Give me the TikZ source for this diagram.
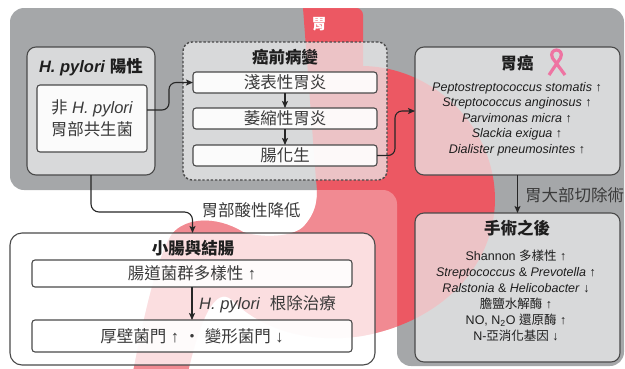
\documentclass[tikz,border=0pt]{standalone}
\usepackage{fontspec}
\setmainfont{Liberation Sans}
\newfontfamily\cjk{Noto Sans CJK TC}
\usetikzlibrary{arrows.meta,calc}

\definecolor{bandgray}{HTML}{A5A7A9}
\definecolor{stomachred}{HTML}{EC5863}
\definecolor{panelfill}{HTML}{EDEDED}
\definecolor{edgegray}{HTML}{4A4A4A}
\definecolor{inkgray}{HTML}{3A3A3A}
\definecolor{titleink}{HTML}{1E1E1E}
\definecolor{ribbonpink}{HTML}{EE74A2}

\newcommand\bigtxt{\fontsize{16.5}{19}\selectfont}
\newcommand\listtxt{\fontsize{12.5}{15.6}\selectfont}

% grey L-shaped band behind the stomach and the right column
\newcommand\bandoutline{(200,8) -- (624,8) -- (624,366) -- (397,366) -- (397,190) -- (10,190) -- (10,8) -- cycle}
% stomach silhouette: oesophagus, body, antrum, pylorus and duodenum
\newcommand\stomachoutline{(303,8) -- (356,8) .. controls (360,8) and (363,11) .. (363,15)
  -- (363,66) .. controls (433,67) and (495,126) .. (495,200)
  .. controls (494,268) and (440,322) .. (362,336)
  .. controls (310,344) and (262,330) .. (232,300)
  .. controls (215,285) and (200,320) .. (188,372)
  -- (133,372) .. controls (145,310) and (158,255) .. (172,234)
  .. controls (185,218) and (215,215) .. (243,232)
  .. controls (260,238) and (295,238) .. (305,225)
  .. controls (318,210) and (318,195) .. (316,180) -- cycle}

\begin{document}
\begin{tikzpicture}[x=1pt,y=-1pt,
  panel/.style={draw=edgegray, line width=1.1pt, rounded corners=9pt,
    fill=panelfill, fill opacity=0.72, inner sep=0pt, outer sep=0pt},
  dashpanel/.style={panel, dash pattern=on 2.4pt off 1.8pt, line width=1.4pt},
  lowpanel/.style={panel, fill=white, fill opacity=0.72, rounded corners=12pt},
  innerbox/.style={draw=edgegray, line width=1.1pt, rounded corners=3pt,
    fill=white, fill opacity=0.9, text opacity=1, inner sep=0pt, outer sep=0pt,
    text=inkgray, font=\bigtxt, align=center},
  heading/.style={font=\bigtxt\bfseries, text=titleink, inner sep=0pt},
  label/.style={font=\bigtxt, text=inkgray, inner sep=0pt},
  species/.style={font=\listtxt, text=titleink, inner sep=0pt, align=center},
  conn/.style={draw=black!85, line width=1.1pt,
    -{Stealth[length=7pt,width=6pt,inset=1.5pt]}}
]
\useasboundingbox (0,0) rectangle (625,368);

% background band and stomach
\fill[bandgray, rounded corners=14pt] \bandoutline;
\fill[stomachred] \stomachoutline;
\begin{scope}
  \clip \stomachoutline;
  \fill[white, fill opacity=0.3, even odd rule]
    (0,0) rectangle (625,375) [rounded corners=14pt] \bandoutline;
\end{scope}
\node[font=\fontsize{15}{15}\selectfont\cjk\bfseries, text=white, inner sep=0pt]
  (organ) at (319,24) {胃};

% panels
\node[panel, minimum width=128pt, minimum height=128pt] (hp) at (91,111) {};
\node[dashpanel, minimum width=204pt, minimum height=138pt] (pre) at (285,111) {};
\node[panel, minimum width=205pt, minimum height=128pt] (gc) at (517.5,111) {};
\node[panel, minimum width=205pt, minimum height=149pt] (ss) at (517.5,287.5) {};
\node[lowpanel, minimum width=365pt, minimum height=132pt] (sm) at (192.5,299) {};

% inner boxes
\node[innerbox, minimum width=110pt, minimum height=67pt,
  font=\fontsize{16.5}{22}\selectfont] (nhp) at (92,118.5)
  {{\cjk 非} \textit{H. pylori}\\{\cjk 胃部共生菌}};
\node[innerbox, minimum width=184pt, minimum height=21pt] (sg) at (285,82.5) {\cjk 淺表性胃炎};
\node[innerbox, minimum width=184pt, minimum height=21pt] (ws) at (285,118.5) {\cjk 萎縮性胃炎};
\node[innerbox, minimum width=184pt, minimum height=21pt] (ca) at (285,155.5) {\cjk 腸化生};
\node[innerbox, minimum width=320pt, minimum height=27pt] (gut1) at (192,273.5)
  {{\cjk 腸道菌群多樣性} ↑};
\node[innerbox, minimum width=320pt, minimum height=32pt] (gut2) at (192,336)
  {{\cjk 厚壁菌門} ↑ {\cjk ・} {\cjk 變形菌門} ↓};

% headings
\node[heading] (hpt) at (91,67) {\textit{H. pylori} {\cjk 陽性}};
\node[heading] (pret) at (285,57) {\cjk 癌前病變};
\node[heading] (gct) at (517,63) {\cjk 胃癌};
\node[heading] (sst) at (517,228) {\cjk 手術之後};
\node[heading] (smt) at (193,248) {\cjk 小腸與結腸};

% awareness ribbon
\draw[ribbonpink, line width=3.2pt] (549,75) -- (560.5,58)
  .. controls (563,53) and (559.5,50) .. (556.5,50)
  .. controls (553.5,50) and (550,53) .. (552.5,58) -- (565,75);

% species lists
\node[species] (gcl) at (517,119)
  {\textit{Peptostreptococcus stomatis} ↑\\
   \textit{Streptococcus anginosus} ↑\\
   \textit{Parvimonas micra} ↑\\
   \textit{Slackia exigua} ↑\\
   \textit{Dialister pneumosintes} ↑};
\node[species, font=\fontsize{12.5}{16}\selectfont] (ssl) at (516,295.5)
  {Shannon {\cjk 多樣性} ↑\\
   \textit{Streptococcus} \& \textit{Prevotella} ↑\\
   \textit{Ralstonia} \& \textit{Helicobacter} ↓\\
   {\cjk 膽鹽水解酶} ↑\\
   NO, N\textsubscript{2}O {\cjk 還原酶} ↑\\
   N-{\cjk 亞消化基因} ↓};

% connectors
\draw[conn, rounded corners=7pt] ($(nhp.east)+(0,-8.5)$) -| ($(sg.west)+(-24,0)$) -- (sg.west);
\draw[conn] (sg.south) -- (ws.north);
\draw[conn] (ws.south) -- (ca.north);
\draw[conn, rounded corners=7pt] (ca.east) -| ($(gc.west)+(-20,0)$) -- (gc.west);
\draw[conn] (gc.south) -- (ss.north);
\draw[conn, rounded corners=8pt] (hp.south) |- ($(sm.north)+(0,-21)$) -- (sm.north);
\draw[conn] (gut1.south) -- (gut2.north);

% connector labels
\node[label, anchor=west] (cut) at (525,195) {\cjk 胃大部切除術};
\node[label] (acid) at (251,210) {\cjk 胃部酸性降低};
\node[label, anchor=west] (erad) at (199,304) {\textit{H. pylori}\hspace{0.6em}{\cjk 根除治療}};
\end{tikzpicture}
\end{document}
